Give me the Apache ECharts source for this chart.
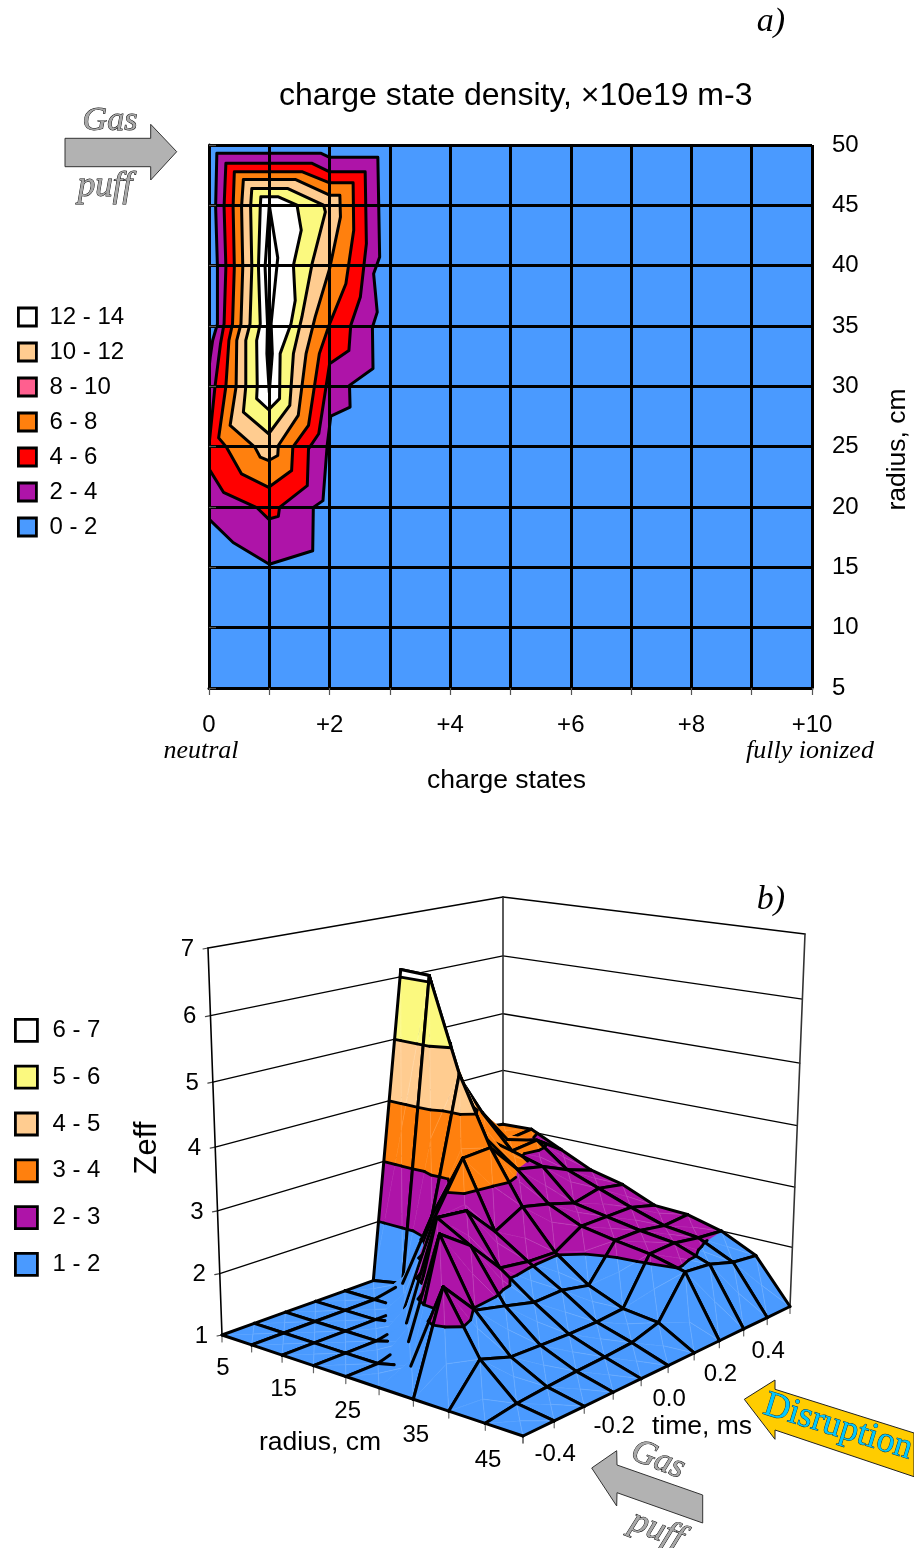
<!DOCTYPE html>
<html><head><meta charset="utf-8">
<style>html,body{margin:0;padding:0;background:#fff}#c{width:914px;height:1548px}</style>
<script src="https://cdn.jsdelivr.net/npm/echarts@6/dist/echarts.min.js"></script>
</head><body><div id="c"></div>
<script>
// ---------- panel a: charge state density ----------
const chargeTicks = ['0','','+2','','+4','','+6','','+8','','+10'];
const radiusTicks = [5,10,15,20,25,30,35,40,45,50];
const plotArea = [[0,5],[10,5],[10,50],[0,50]];
const contour2 = [[.13,49.31],[1.86,49.31],[2,48.98],[2.8,48.98],[2.83,40.72],[2.73,39.33],[2.79,36.15],[2.71,34.9],[2.72,31.47],[2.33,30.08],[2.34,28.28],[2.02,27.53],[1.96,25.1],[1.89,20.53],[1.73,19.97],[1.72,16.37],[1,15.26],[.4,17.06],[0,19],[0,31.5],[.02,32.4],[.06,33.8],[.14,35.18],[.14,39.89],[.11,44.88]];
const contour4 = [[.28,48.48],[1.71,48.48],[2,47.78],[2.59,47.78],[2.61,41.83],[2.51,37.4],[2.35,35.04],[2.32,32.96],[2,31.88],[1.82,26.07],[1.65,24.82],[1.63,21.77],[1.17,19.97],[1.15,19.22],[.99,19],[.8,19.92],[.24,21.22],[0,23.16],[0,25.1],[.1,30],[.19,33.5],[.25,35.18],[.28,39.89],[.25,44.88]];
const contour6 = [[.42,47.78],[1.55,47.78],[2,46.87],[2.39,46.87],[2.4,42.94],[2.27,38.5],[2,35.18],[1.83,32.71],[1.65,26.76],[1.39,24.96],[1.37,23.02],[.99,21.63],[.54,22.74],[.29,24.96],[.16,25.73],[.28,30],[.33,33.8],[.39,35.18],[.42,39.89],[.4,44.88]];
const contour8 = [[.57,47.15],[1.43,47.15],[2,45.84],[2.17,45.84],[2.18,44.04],[2,39.75],[1.76,35.73],[1.61,32.71],[1.48,27.59],[1.15,25.1],[1.14,24.27],[.99,23.85],[.85,24.13],[.76,24.96],[.35,26.76],[.45,30],[.46,33.8],[.53,35.18],[.56,39.89],[.54,44.88]];
const contour10 = [[.71,46.4],[1.3,46.4],[1.9,45.01],[1.93,44.46],[1.71,40.17],[1.54,35.73],[1.4,32.71],[1.34,28.42],[.99,26.07],[.57,27.87],[.61,30],[.61,33.8],[.68,35.18],[.71,39.89],[.69,44.88]];
const contour12 = [[.86,45.71],[1.15,45.71],[1.46,45.01],[1.53,42.94],[1.4,40.03],[1.43,37.12],[1.36,35.18],[1.18,32.71],[1.17,28.98],[.99,28.06],[.79,28.98],[.8,30],[.79,33.8],[.85,35.18],[.82,39.89],[.85,44.88]];
const contourPeak = [[1,45],[1.14,40.65],[1.03,35.2],[1.05,32.7],[1,29.5],[.96,32.7],[.97,35.2],[.93,39.9]];
const bandNamesA = ['12 - 14','10 - 12','8 - 10','6 - 8','4 - 6','2 - 4','0 - 2'];
const legendColorsA = ['#ffffff','#ffcc90','#ff5f8f','#ff800e','#ff0000','#ae14a8','#4a9aff'];

// ---------- panel b: Zeff surface; one array per radius, values over time ----------
const surfaceRadius = [5,10,15,20,25,30,35,40,45,50];
const surfaceTime = [-0.5,-0.4,-0.3,-0.2,-0.1,0,0.1,0.2,0.3,0.4,0.5];
const zeffR05 = [1,1,1,1,1,1,6.12,4.5,3.6,3.1,3.03];
const zeffR10 = [1,1,1,1,1,1.1,6.1,4.4,3.6,3.0,3.05];
const zeffR15 = [1,1,1,1,1,2.4,4.6,3.4,3.05,3.1,2.8];
const zeffR20 = [1,1,1,1.1,2.65,3.47,3.5,3.0,2.9,2.7,2.55];
const zeffR25 = [1,1,1.15,2.95,2.9,2.4,2.65,2.54,2.4,2.5,2.42];
const zeffR30 = [1,1.13,3.0,2.65,2.12,2.05,2.03,2.3,2.3,2.3,2.18];
const zeffR35 = [1,2.52,1.97,1.85,1.72,1.73,1.63,2.2,2.2,2.12,2.15];
const zeffR40 = [1,1.58,1.41,1.39,1.37,1.37,1.4,2.12,2.13,2.05,2.0];
const zeffR45 = [1,1.08,1.12,1.15,1.17,1.2,1.33,1.97,1.92,1.78,1.72];
const zeffR50 = [1,1,1,1,1,1,1,1,1,1,1];
const zeffRows = [zeffR05,zeffR10,zeffR15,zeffR20,zeffR25,zeffR30,zeffR35,zeffR40,zeffR45,zeffR50];
const zeffTicks = [1,2,3,4,5,6,7];
const radiusLabels = [5,15,25,35,45];
const timeLabels = [-0.4,-0.2,0,0.2,0.4];
const zeffLevels = [1,2,3,4,5,6,7];
const bandNamesB = ['6 - 7','5 - 6','4 - 5','3 - 4','2 - 3','1 - 2'];
const bandColorsB = ['#ffffff','#fbf97f','#ffcc90','#ff800e','#ae14a8','#4a9aff'];
// mesh edges only partly visible in the source: 'r<i>:<j>' along time, 't<j>:<i>' along radius
const partialEdges = {'t5:0':.76,'t4:1':.38,'t3:2':.31,'t2:3':.35,'t1:4':.5,'r1:4':.75,'r2:3':.35,'r3:2':.35,'r4:1':.4,'r5:0':0};
// steep front walls: their mesh line only shows above the 1-2 band
const wallEdges = ['r5:1','r4:2','r3:3','r2:4'];

const SANS='"Liberation Sans",Arial,sans-serif', SERIF='"Liberation Serif","Times New Roman",serif';
const BLACK='#000';

// camera of the 3D box: floor and top corners seen on the page (radius min/max, time min/max)
const floorCorners={A:[222,1335],B:[523,1436],C:[790,1306.5],D:[503,1234]};
const topCorners={A:[208,948],B:[524,1012],C:[805,934],D:[503,897]};
function det3(m){return m[0][0]*(m[1][1]*m[2][2]-m[1][2]*m[2][1])-m[0][1]*(m[1][0]*m[2][2]-m[1][2]*m[2][0])+m[0][2]*(m[1][0]*m[2][1]-m[1][1]*m[2][0]);}
function makeHom(q){const {A,B,C,D}=q;
  const M=[[B[0],D[0],-C[0]],[B[1],D[1],-C[1]],[1,1,-1]],d=det3(M),r=[A[0],A[1],1];
  const col=i=>{const m=M.map(x=>x.slice());for(let k=0;k<3;k++)m[k][i]=r[k];return det3(m)/d;};
  const sb=col(0),sd=col(1);
  return (u,v)=>{const o=[0,1,2].map(i=>{const a=[A[0],A[1],1][i],b=[B[0],B[1],1][i]*sb,e=[D[0],D[1],1][i]*sd;return a+u*(b-a)+v*(e-a);});return [o[0]/o[2],o[1]/o[2]];};
}
const floorH=makeHom(floorCorners),topH=makeHom(topCorners);
function proj(u,v,w){const f=floorH(u,v),t=topH(u,v),k=w/(1+0.06*(1-w));return [f[0]+k*(t[0]-f[0]),f[1]+k*(t[1]-f[1])];}
const uOf=r=>(r-5)/45, vOf=t=>t+0.5, wOf=z=>(z-1)/6;
const node=(i,j)=>({u:uOf(surfaceRadius[i]),v:vOf(surfaceTime[j]),z:zeffRows[i][j]});
const P3=(p,api)=>api.coord(proj(p.u,p.v,wOf(p.z)));
const lerp=(a,b,t)=>({u:a.u+(b.u-a.u)*t,v:a.v+(b.v-a.v)*t,z:a.z+(b.z-a.z)*t});
function clipZ(poly,lo,hi){
  const clip=(pts,inside,lev)=>{const out=[];for(let k=0;k<pts.length;k++){const a=pts[k],b=pts[(k+1)%pts.length],ia=inside(a),ib=inside(b);
    if(ia)out.push(a);if(ia!==ib)out.push(lerp(a,b,(lev-a.z)/(b.z-a.z)));}return out;};
  return clip(clip(poly,p=>p.z>=lo,lo),p=>p.z<=hi,hi);
}
const line=(a,b,w,col,op)=>({type:'line',shape:{x1:a[0],y1:a[1],x2:b[0],y2:b[1]},style:{stroke:col||BLACK,lineWidth:w,lineCap:'round',opacity:op==null?1:op},silent:true});

function renderCell(params,api){
  const i=api.value(0),j=api.value(1);
  const n00=node(i,j),n10=node(i+1,j),n11=node(i+1,j+1),n01=node(i,j+1);
  const c={u:(n00.u+n11.u)/2,v:(n00.v+n11.v)/2,z:(n00.z+n10.z+n11.z+n01.z)/4};
  const ring=[n00,n10,n11,n01],children=[],lines=[];
  for(let k=0;k<4;k++){
    const tri=[c,ring[k],ring[(k+1)%4]];
    for(let b=0;b<6;b++){
      const lo=zeffLevels[b],hi=zeffLevels[b+1],poly=clipZ(tri,lo,hi);
      if(poly.length>=3){const col=bandColorsB[5-b];
        children.push({type:'polygon',shape:{points:poly.map(p=>P3(p,api))},style:{fill:col,stroke:col,lineWidth:.6},silent:true});}
    }
    for(let b=1;b<6;b++){
      const L=zeffLevels[b],seg=[];
      for(let e=0;e<3;e++){const a=tri[e],d=tri[(e+1)%3];if((a.z-L)*(d.z-L)<0)seg.push(lerp(a,d,(L-a.z)/(d.z-a.z)));}
      if(seg.length===2)lines.push(line(P3(seg[0],api),P3(seg[1],api),2.8));
    }
    children.push(line(P3(c,api),P3(ring[k],api),.8,'#fff',.18));
  }
  const edge=(key,a,b)=>{
    if(wallEdges.includes(key)&&a.z<2&&b.z>2){lines.push(line(P3(lerp(a,b,(2-a.z)/(b.z-a.z)),api),P3(b,api),3));return;}
    const f=partialEdges[key];const t=f==null?1:f;if(t>0){lines.push(line(P3(a,api),P3(lerp(a,b,t),api),3));}};
  edge('r'+i+':'+j,n00,n01);edge('r'+(i+1)+':'+j,n10,n11);edge('t'+j+':'+i,n00,n10);edge('t'+(j+1)+':'+i,n01,n11);
  return {type:'group',children:children.concat(lines)};
}
function renderBox(params,api){
  const ch=[],p=(u,v,w)=>api.coord(proj(u,v,w));
  zeffTicks.forEach(z=>{const w=wOf(z);
    if(z>1){ch.push(line(p(0,0,w),p(0,1,w),1.3),line(p(0,1,w),p(1,1,w),1.3));}
    const s=p(0,0,w);ch.push(line([s[0]-5,s[1]+1],s,1.2,'#444'));
    ch.push({type:'text',style:{text:String(z),x:s[0]-14,y:s[1]+1,font:'24px '+SANS,fill:BLACK,textAlign:'right',textVerticalAlign:'middle'}});
  });
  ch.push(line(p(0,0,0),p(0,0,1),1.6),line(p(0,1,0),p(0,1,1),1.6,'#333'),line(p(1,1,0),p(1,1,1),1.6,'#333'));
  surfaceRadius.forEach(r=>{const s=p(uOf(r),0,0);ch.push(line(s,[s[0],s[1]+7],1.2,'#666'));});
  surfaceTime.forEach(t=>{const s=p(1,vOf(t),0);ch.push(line(s,[s[0],s[1]+7],1.2,'#666'));});
  radiusLabels.forEach(r=>{const u=uOf(r),s=p(u,0,0);ch.push({type:'text',style:{text:String(r),x:s[0]+1+2*u,y:s[1]+33+5*u,font:'24px '+SANS,fill:BLACK,textAlign:'center',textVerticalAlign:'middle'}});});
  timeLabels.forEach(t=>{const s=p(1,vOf(t),0);ch.push({type:'text',style:{text:t.toFixed(1),x:s[0]+1,y:s[1]+34,font:'24px '+SANS,fill:BLACK,textAlign:'center',textVerticalAlign:'middle'}});});
  return {type:'group',children:ch};
}
const cellData=[];
for(let i=0;i<zeffRows.length-1;i++)for(let j=surfaceTime.length-2;j>=0;j--)cellData.push([i,j]);

function contourSeries(name,pts,fill,extra){
  return {name,type:'custom',xAxisIndex:0,yAxisIndex:0,coordinateSystem:'cartesian2d',clip:true,z:3,
    itemStyle:{color:fill},data:pts.map(p=>p.slice()),animation:false,silent:true,
    renderItem:(pa,api)=>{if(pa.dataIndex!==0)return null;
      return {type:'polygon',shape:{points:pts.map(p=>api.coord(p))},style:{fill,stroke:extra===0?fill:BLACK,lineWidth:extra===0?0:3,lineJoin:'round'}};}};
}
const emptyB=bandNamesB.map((n,k)=>({name:n,type:'custom',xAxisIndex:1,yAxisIndex:1,data:[],itemStyle:{color:bandColorsB[k]},renderItem:()=>null}));
const legendItem=(n,c,bw)=>({name:n,icon:'rect',itemStyle:{color:c,borderColor:BLACK,borderWidth:bw}});
const outline=(stroke)=>({stroke,lineWidth:.9,strokeFirst:false});

const option={
  animation:false,backgroundColor:'#fff',
  title:{text:'charge state density, ×10e19 m-3',left:274,top:75,textStyle:{fontFamily:SANS,fontWeight:'normal',fontSize:32,color:BLACK}},
  grid:[{left:209,top:145,width:603,height:543,outerBoundsMode:'none'},{left:0,top:0,width:914,height:1548,outerBoundsMode:'none'}],
  xAxis:[{type:'value',gridIndex:0,min:0,max:10,interval:1,z:6,name:'charge states',nameLocation:'middle',nameGap:79,
      nameTextStyle:{fontFamily:SANS,fontSize:26.5,color:BLACK,padding:[0,8,0,0]},
      axisLine:{lineStyle:{color:BLACK,width:3}},axisTick:{length:7,lineStyle:{color:'#555',width:1.2}},
      axisLabel:{margin:25,fontFamily:SANS,fontSize:24,color:BLACK,interval:0,hideOverlap:false,formatter:v=>chargeTicks[Math.round(v)]},
      splitLine:{show:true,lineStyle:{color:BLACK,width:3}}},
    {type:'value',gridIndex:1,min:0,max:914,show:false}],
  yAxis:[{type:'value',gridIndex:0,min:5,max:50,interval:5,position:'right',z:6,name:'radius, cm',nameLocation:'middle',nameGap:72,nameRotate:90,
      nameTextStyle:{fontFamily:SANS,fontSize:26.5,color:BLACK,padding:[0,66,0,0]},
      axisLine:{show:true,lineStyle:{color:BLACK,width:3}},axisTick:{show:true,length:7,lineStyle:{color:'#555',width:1.2}},
      axisLabel:{margin:20,fontFamily:SANS,fontSize:24,color:BLACK,padding:[3,0,0,0],formatter:v=>radiusTicks.includes(v)?String(v):''},
      splitLine:{show:true,lineStyle:{color:BLACK,width:3}}},
    {type:'value',gridIndex:1,min:0,max:1548,inverse:true,show:false}],
  legend:[
    {orient:'vertical',left:17,top:305,padding:0,itemWidth:18,itemHeight:18,itemGap:11,selectedMode:false,textStyle:{fontFamily:SANS,fontSize:24,color:BLACK,padding:[0,0,0,8]},
     data:bandNamesA.map((n,k)=>legendItem(n,legendColorsA[k],2.8))},
    {orient:'vertical',left:14,top:1018,padding:0,itemWidth:22,itemHeight:22,itemGap:22,selectedMode:false,textStyle:{fontFamily:SANS,fontSize:24,color:BLACK,padding:[0,0,0,10]},
     data:bandNamesB.map((n,k)=>legendItem(n,bandColorsB[k],2.8))}
  ],
  series:[
    contourSeries('0 - 2',plotArea,'#4a9aff',0),
    contourSeries('2 - 4',contour2,'#ae14a8'),
    contourSeries('4 - 6',contour4,'#ff0000'),
    contourSeries('6 - 8',contour6,'#ff800e'),
    contourSeries('8 - 10',contour8,'#ffcc90'),
    contourSeries('10 - 12',contour10,'#fbf97f'),
    contourSeries('12 - 14',contour12,'#ffffff'),
    contourSeries('peak',contourPeak,'#ffffff'),
    {type:'custom',name:'box',xAxisIndex:1,yAxisIndex:1,clip:false,z:1,silent:true,data:[[0,0]],renderItem:renderBox},
    {type:'custom',name:'surface',xAxisIndex:1,yAxisIndex:1,clip:false,z:3,silent:true,data:cellData,renderItem:renderCell}
  ].concat(emptyB),
  graphic:[
    {type:'polygon',z:20,shape:{points:[[65,138.3],[150.7,138.3],[150.7,124.3],[176.7,151.7],[150.7,180],[150.7,166.7],[65,166.7]]},style:{fill:'#b2b2b2',stroke:'#333',lineWidth:1}},
    {type:'polygon',z:20,shape:{points:[[591.7,1468],[616.7,1450.7],[617,1465],[702.7,1495],[702.7,1523],[617,1492.7],[616.7,1506]]},style:{fill:'#b2b2b2',stroke:'#333',lineWidth:1}},
    {type:'polygon',z:20,shape:{points:[[744.3,1399.3],[775,1380],[775,1389.3],[914,1433],[914,1476.7],[775,1430],[775,1439.3]]},style:{fill:'#ffcc00',stroke:'#222',lineWidth:1}},
    {type:'text',z:21,x:110,y:121,style:Object.assign({text:'Gas',font:'italic 34px '+SERIF,fill:'#a8a8a8',textAlign:'center',textVerticalAlign:'middle'},outline('#000'))},
    {type:'text',z:21,x:105,y:187,style:Object.assign({text:'puff',font:'italic 35px '+SERIF,fill:'#a8a8a8',textAlign:'center',textVerticalAlign:'middle'},outline('#000'))},
    {type:'text',z:21,x:658,y:1460,rotation:-0.38,style:Object.assign({text:'Gas',font:'italic 34px '+SERIF,fill:'#a8a8a8',textAlign:'center',textVerticalAlign:'middle'},outline('#000'))},
    {type:'text',z:21,x:657,y:1530,rotation:-0.38,style:Object.assign({text:'puff',font:'italic 35px '+SERIF,fill:'#a8a8a8',textAlign:'center',textVerticalAlign:'middle'},outline('#000'))},
    {type:'text',z:21,x:838,y:1427,rotation:-0.3,style:Object.assign({text:'Disruption',font:'36px '+SERIF,fill:'#00c8ff',textAlign:'center',textVerticalAlign:'middle'},outline('#0a2a4a'))},
    {type:'text',z:21,x:771,y:22,style:{text:'a)',font:'italic 34px '+SERIF,fill:BLACK,textAlign:'center',textVerticalAlign:'middle'}},
    {type:'text',z:21,x:771,y:900,style:{text:'b)',font:'italic 34px '+SERIF,fill:BLACK,textAlign:'center',textVerticalAlign:'middle'}},
    {type:'text',z:21,x:201,y:751,style:{text:'neutral',font:'italic 26px '+SERIF,fill:BLACK,textAlign:'center',textVerticalAlign:'middle'}},
    {type:'text',z:21,x:810,y:751,style:{text:'fully ionized',font:'italic 26px '+SERIF,fill:BLACK,textAlign:'center',textVerticalAlign:'middle'}},
    {type:'text',z:21,x:320,y:1443,style:{text:'radius, cm',font:'26.5px '+SANS,fill:BLACK,textAlign:'center',textVerticalAlign:'middle'}},
    {type:'text',z:21,x:702,y:1427,style:{text:'time, ms',font:'26.5px '+SANS,fill:BLACK,textAlign:'center',textVerticalAlign:'middle'}},
    {type:'text',z:21,x:147,y:1148,rotation:Math.PI/2,style:{text:'Zeff',font:'31px '+SANS,fill:BLACK,textAlign:'center',textVerticalAlign:'middle'}}
  ]
};
const chart=echarts.init(document.getElementById('c'),null,{renderer:'canvas',width:914,height:1548});
chart.setOption(option);
</script></body></html>
